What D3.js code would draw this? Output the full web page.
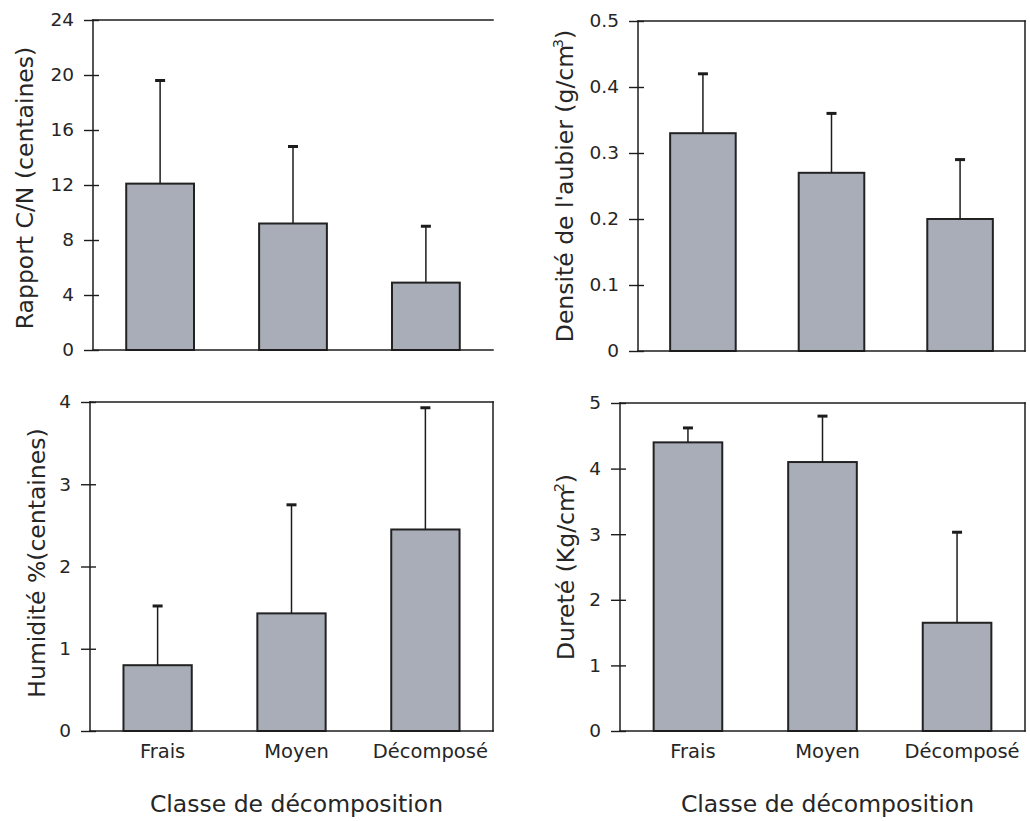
<!DOCTYPE html>
<html>
<head>
<meta charset="utf-8">
<script src="https://cdn.jsdelivr.net/npm/d3@7"></script>
<style>
  html, body { margin: 0; padding: 0; background: #fff; }
  svg { display: block; }
  text { font-family: "DejaVu Sans", Verdana, sans-serif; fill: #262626; }
</style>
</head>
<body>
<svg id="chart" width="1030" height="821"></svg>
<script>
// ---- data ----
const categories = ["Frais", "Moyen", "Décomposé"];

const cnMeans = [12.1, 9.2, 4.9];
const cnSD    = [7.5, 5.6, 4.1];
const cnTicks = [0, 4, 8, 12, 16, 20, 24];

const densMeans = [0.33, 0.27, 0.20];
const densSD    = [0.09, 0.09, 0.09];
const densTicks = [0, 0.1, 0.2, 0.3, 0.4, 0.5];

const humMeans = [0.8, 1.43, 2.45];
const humSD    = [0.72, 1.32, 1.48];
const humTicks = [0, 1, 2, 3, 4];

const durMeans = [4.4, 4.1, 1.65];
const durSD    = [0.22, 0.70, 1.38];
const durTicks = [0, 1, 2, 3, 4, 5];

const xTitle = "Classe de décomposition";

// ---- layout ----
const svg = d3.select("#chart");
svg.append("rect").attr("width", 1030).attr("height", 821).attr("fill", "#fff");

const panels = [
  { means: cnMeans, sd: cnSD, ticks: cnTicks, box: {l: 93, r: 493, t: 20, b: 350},
    title: ["Rapport C/N (centaines)"], titleX: 33, titleY: 188, rightBorder: false, showX: false },
  { means: densMeans, sd: densSD, ticks: densTicks, box: {l: 638, r: 1025, t: 21, b: 351},
    title: ["Densité de l'aubier (g/cm", "3", ")"], titleX: 573, titleY: 186, rightBorder: true, showX: false },
  { means: humMeans, sd: humSD, ticks: humTicks, box: {l: 90, r: 493, t: 402, b: 731},
    title: ["Humidité %(centaines)"], titleX: 45, titleY: 563, rightBorder: true, showX: true },
  { means: durMeans, sd: durSD, ticks: durTicks, box: {l: 620, r: 1025, t: 403, b: 731},
    title: ["Dureté (Kg/cm", "2", ")"], titleX: 574, titleY: 567, rightBorder: true, showX: true }
];

const lineCol = "#1c1c1c";
const FONT = "DejaVu Sans, Verdana, sans-serif";

panels.forEach(p => {
  const {l, r, t, b} = p.box;
  const g = svg.append("g");
  const x = d3.scaleBand().domain(categories).range([l, r]).paddingInner(0.49).paddingOuter(0.25);
  const y = d3.scaleLinear().domain([0, d3.max(p.ticks)]).range([b, t]);

  // y axis ticks (crossing the axis line)
  const ya = g.append("g").attr("transform", `translate(${l + 6},0)`)
    .call(d3.axisLeft(y).tickValues(p.ticks).tickSize(15).tickPadding(10).tickFormat(d => String(d)));
  ya.select(".domain").remove();
  ya.attr("font-size", null).attr("font-family", null);
  ya.selectAll(".tick line").attr("stroke", lineCol).attr("stroke-width", 1.4);
  ya.selectAll(".tick text")
    .attr("font-size", 18.5).attr("font-family", FONT).attr("fill", "#262626");

  // bars
  const data = categories.map((c, i) => ({c, m: p.means[i], s: p.sd[i]}));
  g.selectAll("rect.bar").data(data).join("rect")
    .attr("class", "bar")
    .attr("x", d => x(d.c)).attr("width", x.bandwidth())
    .attr("y", d => y(d.m)).attr("height", d => y(0) - y(d.m))
    .attr("fill", "#a8adb7").attr("stroke", "#222").attr("stroke-width", 2);

  // error bars
  g.selectAll("line.err").data(data).join("line")
    .attr("class", "err")
    .attr("x1", d => x(d.c) + x.bandwidth() / 2).attr("x2", d => x(d.c) + x.bandwidth() / 2)
    .attr("y1", d => y(d.m)).attr("y2", d => y(d.m + d.s))
    .attr("stroke", lineCol).attr("stroke-width", 1.5);
  g.selectAll("line.cap").data(data).join("line")
    .attr("class", "cap")
    .attr("x1", d => x(d.c) + x.bandwidth() / 2 - 5).attr("x2", d => x(d.c) + x.bandwidth() / 2 + 5)
    .attr("y1", d => y(d.m + d.s)).attr("y2", d => y(d.m + d.s))
    .attr("stroke", lineCol).attr("stroke-width", 3);

  // frame
  const frame = [[l, t, l, b], [l, b, r, b], [l, t, r, t]];
  if (p.rightBorder) frame.push([r, t, r, b]);
  g.selectAll("line.frame").data(frame).join("line")
    .attr("class", "frame")
    .attr("x1", d => d[0]).attr("y1", d => d[1]).attr("x2", d => d[2]).attr("y2", d => d[3])
    .attr("stroke", lineCol).attr("stroke-width", 1.5).attr("stroke-linecap", "square");

  // x axis labels
  if (p.showX) {
    const xa = g.append("g").attr("transform", `translate(5,${b})`)
      .call(d3.axisBottom(x).tickSize(0).tickPadding(13));
    xa.select(".domain").remove();
    xa.attr("font-size", null).attr("font-family", null);
    xa.selectAll(".tick text")
      .attr("font-size", 19.5).attr("font-family", FONT).attr("fill", "#262626");
    g.append("text")
      .attr("x", (l + r) / 2 + 5).attr("y", 812)
      .attr("text-anchor", "middle").attr("font-size", 23.5)
      .text(xTitle);
  }

  // y title
  const tt = g.append("text")
    .attr("transform", `translate(${p.titleX},${p.titleY}) rotate(-90)`)
    .attr("text-anchor", "middle").attr("font-size", 23.5);
  tt.append("tspan").text(p.title[0]);
  if (p.title.length > 1) {
    tt.append("tspan").attr("font-size", 14).attr("dy", -10).attr("dx", -3).text(p.title[1]);
    tt.append("tspan").attr("font-size", 23.5).attr("dy", 10).attr("dx", 0).text(p.title[2]);
  }
});
</script>
</body>
</html>
